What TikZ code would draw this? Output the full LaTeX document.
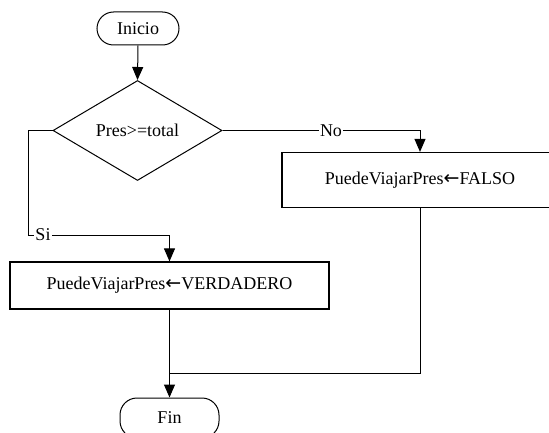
\documentclass[tikz,border=0pt]{standalone}
\usepackage{fontspec}
\setmainfont{Liberation Serif}
\newfontfamily\arrowfont{DejaVu Sans}
\newcommand{\assignarrow}{{\arrowfont\fontsize{19}{21}\selectfont ←}}
\usetikzlibrary{shapes.geometric,arrows.meta}
\begin{document}
\begin{tikzpicture}[x=1pt,y=1pt,
  every node/.style={font=\fontsize{18}{21}\selectfont},
  flow/.style={line width=1pt},
  arr/.style={flow,-{Triangle[length=13pt,width=11pt]}},
  terminal/.style={draw,line width=1pt,rounded corners=16.5pt,minimum height=33pt,inner sep=0pt},
  procbox/.style={draw,line width=1.2pt,inner sep=0pt},
  decision/.style={draw,line width=1pt,diamond,aspect=1.7,minimum width=169pt,minimum height=100pt,inner sep=0pt},
  lbl/.style={fill=white,inner sep=1pt}]
\useasboundingbox (0,0) rectangle (549,-433);

% nodes
\node[terminal,minimum width=82pt] (ini) at (138,-28.5) {Inicio};
\node[decision] (dec) at (137.5,-130.5) {Pres>=total};
\node[procbox,minimum width=276pt,minimum height=55pt] (fal) at (420,-180) {PuedeViajarPres\assignarrow FALSO};
\node[procbox,minimum width=319pt,minimum height=47pt] (ver) at (169.5,-285.5) {PuedeViajarPres\assignarrow VERDADERO};
\node[terminal,minimum width=99pt,minimum height=40pt,rounded corners=17pt] (fin) at (169.5,-418) {Fin};

% routing points
\coordinate (siA) at (28,-130.5);
\coordinate (siB) at (28,-235);
\coordinate (siC) at (169.5,-235);
\coordinate (noA) at (420,-130.5);
\coordinate (jn) at (169.5,-373);

% connectors
\draw[arr] (ini.south) -- (dec.north);
\draw[arr] (dec.west) -- (siA) -- (siB) -- (siC) -- (ver.north);
\draw[arr] (dec.east) -- (noA) -- (fal.north);
\draw[arr] (ver.south) -- (fin.north);
\draw[flow] (fal.south) -- (fal.south |- jn) -- (jn);

% branch labels
\node[lbl] (si) at (43,-235) {Si};
\node[lbl] (no) at (331,-130.5) {No};
\end{tikzpicture}
\end{document}
